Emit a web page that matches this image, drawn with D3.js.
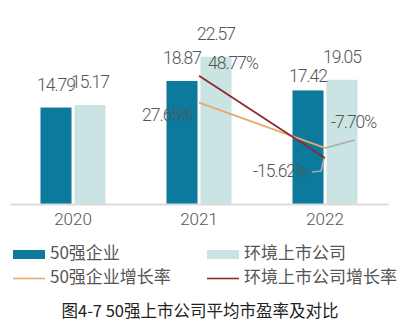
<!DOCTYPE html>
<html><head><meta charset="utf-8">
<script src="https://cdn.jsdelivr.net/npm/d3@7/dist/d3.min.js"></script>
<style>body{margin:0;background:#fff}svg{display:block}</style>
</head><body>
<svg id="c" width="406" height="334"></svg>
<script>
const years = ["2020", "2021", "2022"];
const seriesNames = ["50强企业", "环境上市公司"];
const top50PE = [14.79, 18.87, 17.42];
const envPE = [15.17, 22.57, 19.05];
const rateYears = ["2021", "2022"];
const top50Rate = [27.65, -7.70];
const envRate = [48.77, -15.62];
const lineNames = ["50强企业增长率", "环境上市公司增长率"];
const title = "图4-7 50强上市公司平均市盈率及对比";

const C_DARK = "#0b7a9c", C_LIGHT = "#c9e4e2", C_OR = "#e8a96b", C_RED = "#8e2b2f";
const NUMF = "Roboto, 'Liberation Sans', sans-serif";
const CJK = "'Noto Sans CJK SC', 'Noto Sans', sans-serif";

const svg = d3.select("#c");
const baseY = 204;
const x0 = d3.scaleBand().domain(years).range([10, 388]).padding(0);
const x1 = d3.scaleBand().domain(seriesNames).range([-32.5, 32.5]).paddingInner(0.088);
const y = d3.scaleLinear().domain([0, 30]).range([baseY, baseY - 30 * 6.52]);
const y2 = d3.scaleLinear().domain([-51.5, 100]).range([baseY, baseY - 151.5 * 1.28]);
const cx = yr => x0(yr) + x0.bandwidth() / 2;

const barData = [];
years.forEach((yr, i) => {
  barData.push({yr, s: seriesNames[0], v: top50PE[i], c: C_DARK});
  barData.push({yr, s: seriesNames[1], v: envPE[i], c: C_LIGHT});
});

svg.selectAll("rect.bar").data(barData).join("rect")
  .attr("class", "bar")
  .attr("x", d => cx(d.yr) + x1(d.s))
  .attr("width", x1.bandwidth())
  .attr("y", d => y(d.v))
  .attr("height", d => y(0) - y(d.v))
  .attr("fill", d => d.c);

// axis
const ax = svg.append("g").attr("transform", `translate(0,${baseY})`)
  .call(d3.axisBottom(x0).tickSize(0).tickPadding(18));
ax.select(".domain").attr("stroke", "#dcdcdc").attr("stroke-width", 2);
ax.selectAll("text").attr("font-family", NUMF).attr("font-size", 17).attr("font-weight", 300)
  .attr("fill", "#555").attr("dy", "0.15em");

// bar labels
svg.selectAll("text.bl").data(barData).join("text")
  .attr("class", "bl")
  .attr("x", d => cx(d.yr) + x1(d.s) + x1.bandwidth() / 2)
  .attr("y", d => y(d.v) - (d.yr === "2022" && d.s === seriesNames[0] ? 8 : 17))
  .attr("text-anchor", "middle")
  .attr("font-family", NUMF).attr("font-size", 17.5).attr("font-weight", 300)
  .attr("letter-spacing", "-1px").attr("fill", "#555")
  .text(d => d.v.toFixed(2));

// lines
const line = d3.line().x(d => cx(d.yr)).y(d => y2(d.v));
const orData = rateYears.map((yr, i) => ({yr, v: top50Rate[i]}));
const redData = rateYears.map((yr, i) => ({yr, v: envRate[i]}));

// leader lines
const p1 = orData[1], p2 = redData[1];
svg.append("path")
  .attr("d", d3.line()([[cx(p1.yr), y2(p1.v)], [cx(p1.yr) + 30, y2(p1.v) - 8]]))
  .attr("fill", "none").attr("stroke", "#aaa").attr("stroke-width", 1.6);
svg.append("path")
  .attr("d", d3.line()([[cx(p2.yr) - 1, y2(p2.v)], [cx(p2.yr) - 4, y2(p2.v) + 13], [cx(p2.yr) - 13, y2(p2.v) + 14]]))
  .attr("fill", "none").attr("stroke", "#aaa").attr("stroke-width", 1.6);

svg.append("path").datum(orData).attr("d", line)
  .attr("fill", "none").attr("stroke", C_OR).attr("stroke-width", 1.8);
svg.append("path").datum(redData).attr("d", line)
  .attr("fill", "none").attr("stroke", C_RED).attr("stroke-width", 1.8);

const rl = [
  {d: redData[0], dx: 9, dy: -7, a: "start"},
  {d: orData[0], dx: -7, dy: 18, a: "end"},
  {d: orData[1], dx: 6, dy: -20, a: "start"},
  {d: redData[1], dx: -18, dy: 19, a: "end"}
];
svg.selectAll("text.rl").data(rl).join("text")
  .attr("class", "rl")
  .attr("x", r => cx(r.d.yr) + r.dx)
  .attr("y", r => y2(r.d.v) + r.dy)
  .attr("text-anchor", r => r.a)
  .attr("font-family", NUMF).attr("font-size", 17.5).attr("font-weight", 300)
  .attr("letter-spacing", "-1px").attr("fill", "#555")
  .text(r => r.d.v.toFixed(2) + "%");

// legend
const lg = [
  {t: seriesNames[0], type: "rect", c: C_DARK, x: 13, y: 259},
  {t: seriesNames[1], type: "rect", c: C_LIGHT, x: 207, y: 259},
  {t: lineNames[0], type: "line", c: C_OR, x: 13, y: 283},
  {t: lineNames[1], type: "line", c: C_RED, x: 207, y: 283}
];
lg.forEach(l => {
  if (l.type === "rect") {
    svg.append("rect").attr("x", l.x).attr("y", l.y - 9).attr("width", 32).attr("height", 9).attr("fill", l.c);
  } else {
    svg.append("line").attr("x1", l.x).attr("x2", l.x + 32).attr("y1", l.y - 4.5).attr("y2", l.y - 4.5)
      .attr("stroke", l.c).attr("stroke-width", 1.6);
  }
  svg.append("text").attr("x", l.x + 37).attr("y", l.y)
    .attr("font-family", CJK).attr("font-size", 17).attr("fill", "#555").text(l.t);
});

svg.append("text").attr("x", 200).attr("y", 317).attr("text-anchor", "middle")
  .attr("font-family", CJK).attr("font-size", 16.5).attr("font-weight", 400).attr("fill", "#222")
  .text(title);
</script>
</body></html>
